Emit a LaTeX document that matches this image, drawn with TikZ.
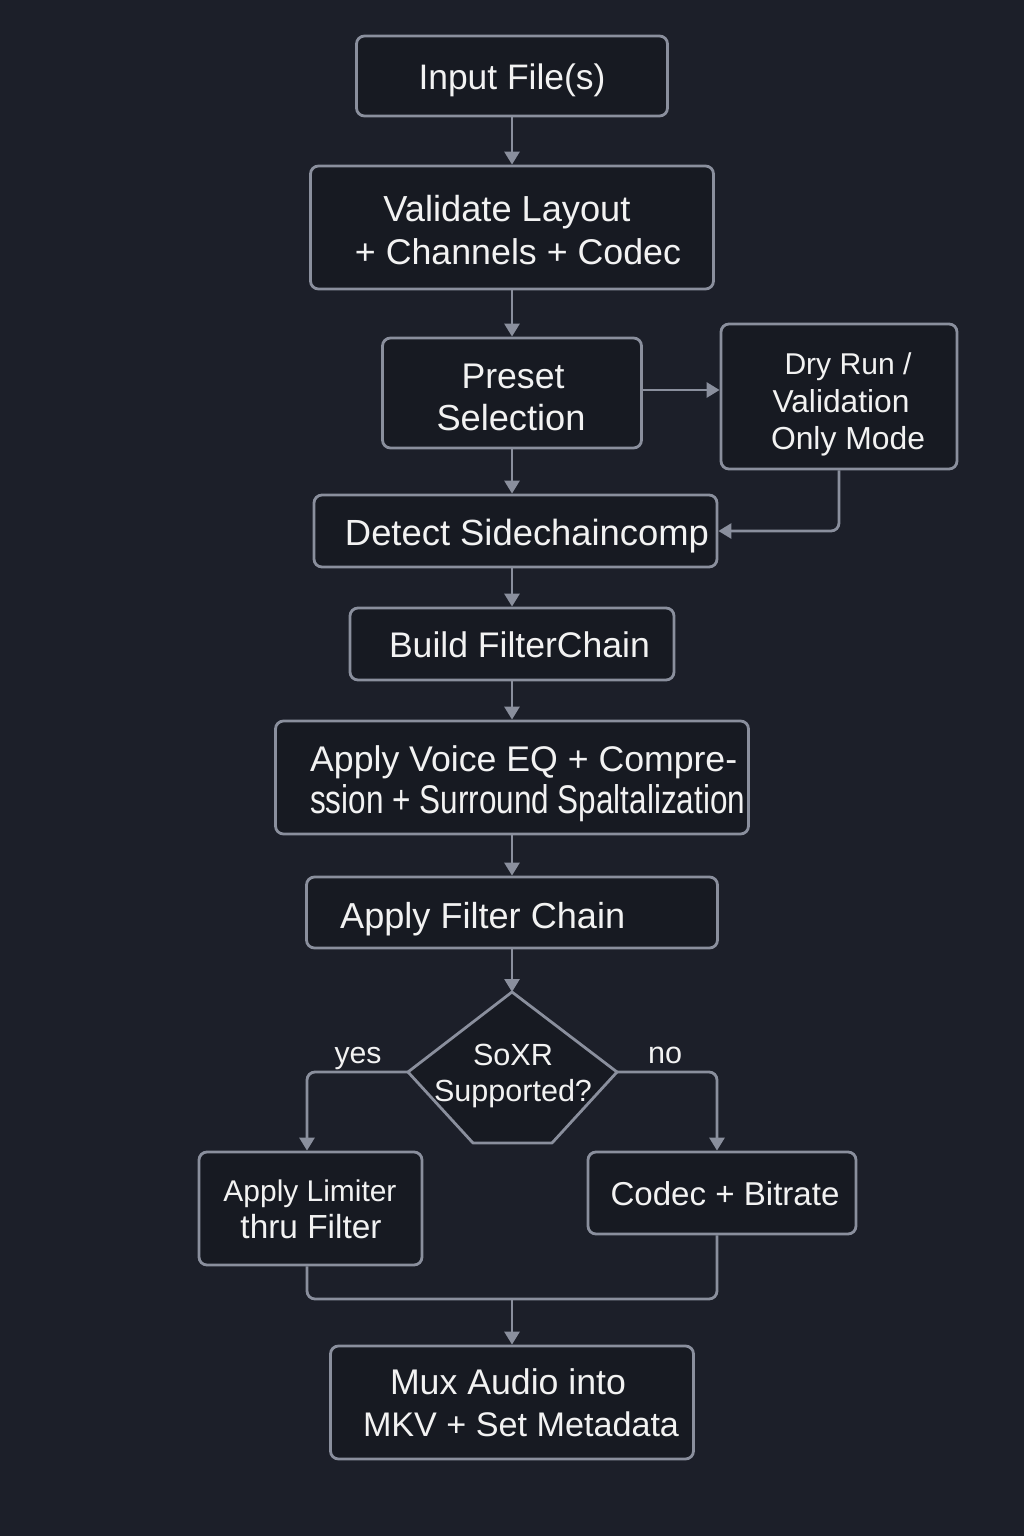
\documentclass[tikz,border=0pt]{standalone}
\usepackage{fontspec}
\setmainfont{Liberation Sans}
\usetikzlibrary{arrows.meta}
\definecolor{bg}{HTML}{1C1F29}
\definecolor{boxfill}{HTML}{171A22}
\definecolor{lnc}{HTML}{8A8F9D}
\definecolor{tx}{HTML}{F2F2F2}
\newcommand{\tw}[2]{\resizebox{#1pt}{!}{#2}}
\begin{document}
\begin{tikzpicture}[x=1pt,y=-1pt,
  box/.style={draw=lnc, line width=2.8pt, fill=boxfill, rounded corners=8pt, inner sep=0pt},
  txt/.style={text=tx, inner sep=0pt, anchor=base, font=\fontsize{34}{40}\selectfont},
  txtw/.style={txt, anchor=base west},
  conn/.style={draw=lnc, line width=2.8pt, rounded corners=8pt},
  arr/.style={conn, -{Triangle[width=15pt,length=13pt]}}]
\fill[bg] (0,0) rectangle (1024,1536);
\useasboundingbox (0,0) rectangle (1024,1536);
% boxes
\node[box, minimum width=311pt, minimum height=80pt] (inp) at (512,76) {};
\node[box, minimum width=403pt, minimum height=123pt] (val) at (512,227.5) {};
\node[box, minimum width=259pt, minimum height=110pt] (pre) at (512,393) {};
\node[box, minimum width=236pt, minimum height=145pt] (dry) at (839,396.5) {};
\node[box, minimum width=403pt, minimum height=72pt] (det) at (515.5,531) {};
\node[box, minimum width=324pt, minimum height=72pt] (bld) at (512,644) {};
\node[box, minimum width=473pt, minimum height=113pt] (voi) at (512,777.5) {};
\node[box, minimum width=411pt, minimum height=71pt] (apf) at (512,912.5) {};
\node[box, minimum width=223pt, minimum height=113pt] (lim) at (310.5,1208.5) {};
\node[box, minimum width=268pt, minimum height=82pt] (cod) at (722,1193) {};
\node[box, minimum width=363pt, minimum height=113pt] (mux) at (512,1402.5) {};
% decision shape
\coordinate (hxT) at (512,992);
\coordinate (hxR) at (617,1072);
\coordinate (hxBR) at (552,1143);
\coordinate (hxBL) at (473,1143);
\coordinate (hxL) at (408,1072);
\draw[draw=lnc, line width=2.8pt, fill=boxfill, line join=round] (hxT) -- (hxR) -- (hxBR) -- (hxBL) -- (hxL) -- cycle;
% texts
\node[txt] (t1) at (512,90) {\tw{187}{Input File(s)}};
\node[txt] (t2a) at (507,221) {\tw{247}{Validate Layout}};
\node[txt] (t2b) at (518,264) {\tw{326}{+ Channels + Codec}};
\node[txt] (t3a) at (513,388) {\tw{103}{Preset}};
\node[txt] (t3b) at (511,430) {\tw{149}{Selection}};
\node[txt] (t4a) at (848,374) {\tw{127}{Dry Run /}};
\node[txt] (t4b) at (841,412) {\tw{137}{Validation}};
\node[txt] (t4c) at (848,449) {\tw{154}{Only Mode}};
\node[txt] (t5) at (527,545) {\tw{364}{Detect Sidechaincomp}};
\node[txt] (t6) at (519.5,657) {\tw{261}{Build FilterChain}};
\node[txtw] (t7a) at (310,771) {\tw{427}{Apply Voice EQ + Compre-}};
\node[txtw] (t7b) at (310,813) {\resizebox{435pt}{29pt}{ssion + Surround Spaltalization}};
\node[txtw] (t8) at (340,928) {\tw{285}{Apply Filter Chain}};
\node[txt] (t9a) at (513,1065) {\tw{80}{SoXR}};
\node[txt] (t9b) at (513,1101) {\tw{158}{Supported?}};
\node[txt] (yes) at (358,1063) {\tw{47}{yes}};
\node[txt] (no) at (665,1063) {\tw{34}{no}};
\node[txt] (t10a) at (310,1201) {\tw{173}{Apply Limiter}};
\node[txt] (t10b) at (311,1238) {\tw{141}{thru Filter}};
\node[txt] (t11) at (725,1205) {\tw{229}{Codec + Bitrate}};
\node[txt] (t12a) at (508,1394) {\tw{236}{Mux Audio into}};
\node[txt] (t12b) at (521,1436) {\tw{316}{MKV + Set Metadata}};
% connectors
\draw[arr] (inp.south) -- (val.north);
\draw[arr] (val.south) -- (pre.north);
\draw[arr] (pre.east |- 0,390) -- (dry.west |- 0,390);
\draw[arr] (pre.south) -- (pre.south |- det.north);
\draw[arr] (dry.south) |- (det.east);
\draw[arr] (det.south -| bld.north) -- (bld.north);
\draw[arr] (bld.south) -- (voi.north);
\draw[arr] (voi.south) -- (apf.north);
\draw[arr] (apf.south) -- (hxT);
\draw[arr] (hxL) -| ([xshift=-3.5pt]lim.north);
\draw[arr] (hxR) -| ([xshift=-5pt]cod.north);
\coordinate (mrg) at (512,1299);
\draw[conn] ([xshift=-3.5pt]lim.south) |- (mrg) -| ([xshift=-5pt]cod.south);
\draw[arr] (mrg) -- (mux.north);
\end{tikzpicture}
\end{document}
